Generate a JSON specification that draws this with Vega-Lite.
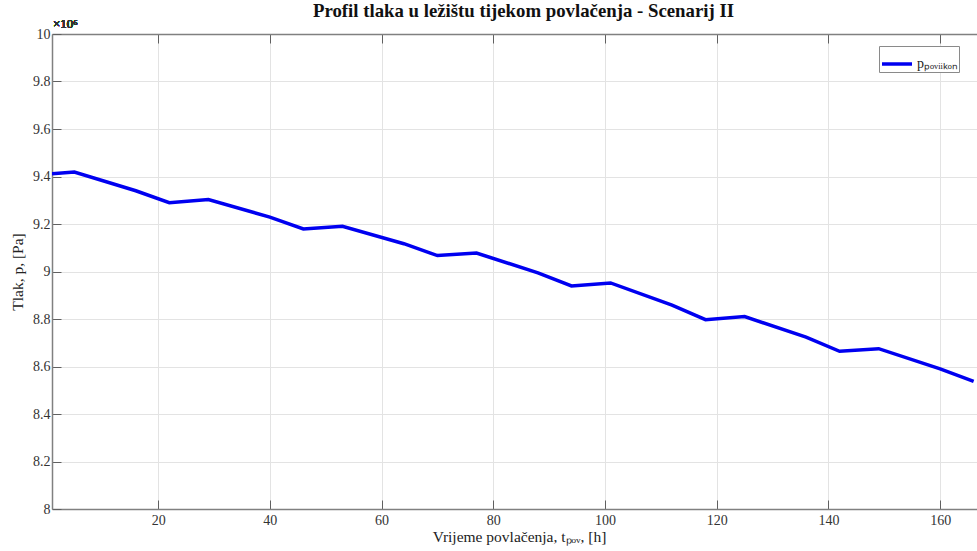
{
  "$schema": "https://vega.github.io/schema/vega-lite/v6.json",
  "autosize": "none",
  "width": 925,
  "height": 475,
  "padding": {"left": 52, "top": 34, "right": 0, "bottom": 42},
  "background": "white",
  "title": {
    "text": "Profil tlaka u ležištu tijekom povlačenja - Scenarij II",
    "font": "Liberation Serif",
    "fontSize": 18.8,
    "fontWeight": "bold",
    "color": "#111",
    "anchor": "middle",
    "dx": 9,
    "offset": -3
  },
  "config": {
    "view": {"stroke": null},
    "axis": {
      "labelFont": "Liberation Serif",
      "titleFont": "Liberation Serif",
      "labelFontSize": 14,
      "titleFontSize": 15.5,
      "titleFontWeight": "normal",
      "labelColor": "#333",
      "titleColor": "#222",
      "domainColor": "#808080",
      "domainWidth": 1.5,
      "tickColor": "#606060",
      "tickWidth": 1,
      "tickSize": -9,
      "gridColor": "#e3e3e3",
      "gridWidth": 1
    }
  },
  "data": {
    "values": [
      {"t": 1, "p": 9412000, "s": "p"},
      {"t": 5, "p": 9419000, "s": "p"},
      {"t": 16, "p": 9340000, "s": "p"},
      {"t": 22, "p": 9290000, "s": "p"},
      {"t": 29, "p": 9303000, "s": "p"},
      {"t": 40, "p": 9229000, "s": "p"},
      {"t": 46, "p": 9179000, "s": "p"},
      {"t": 53, "p": 9190000, "s": "p"},
      {"t": 64, "p": 9117000, "s": "p"},
      {"t": 70, "p": 9067000, "s": "p"},
      {"t": 77, "p": 9078000, "s": "p"},
      {"t": 88, "p": 8994000, "s": "p"},
      {"t": 94, "p": 8939000, "s": "p"},
      {"t": 101, "p": 8952000, "s": "p"},
      {"t": 112, "p": 8858000, "s": "p"},
      {"t": 118, "p": 8797000, "s": "p"},
      {"t": 125, "p": 8810000, "s": "p"},
      {"t": 136, "p": 8724000, "s": "p"},
      {"t": 142, "p": 8664000, "s": "p"},
      {"t": 149, "p": 8675000, "s": "p"},
      {"t": 160, "p": 8590000, "s": "p"},
      {"t": 166, "p": 8537000, "s": "p"}
    ]
  },
  "resolve": {"axis": {"x": "independent", "y": "independent"}},
  "layer": [
    {
      "mark": {"type": "line", "strokeWidth": 3.5, "clip": true},
      "encoding": {
        "x": {
          "field": "t", "type": "quantitative",
          "scale": {"domain": [1, 166.6], "nice": false, "zero": false},
          "axis": {
            "values": [20, 40, 60, 80, 100, 120, 140, 160],
            "title": "Vrijeme povlačenja, tₚₒᵥ, [h]",
            "labelPadding": 13,
            "titlePadding": 2,
            "titleX": 467
          }
        },
        "y": {
          "field": "p", "type": "quantitative",
          "scale": {"domain": [8000000, 10000000], "nice": false, "zero": false},
          "axis": {
            "values": [8000000, 8200000, 8400000, 8600000, 8800000, 9000000, 9200000, 9400000, 9600000, 9800000, 10000000],
            "labelExpr": "format(datum.value/1000000, '.1~f')",
            "title": "Tlak, p, [Pa]",
            "labelPadding": 11,
            "titlePadding": 7
          }
        },
        "color": {
          "field": "s", "type": "nominal",
          "scale": {"domain": ["p"], "range": ["#0000f0"]},
          "legend": {
            "title": null,
            "orient": "none",
            "legendX": 827,
            "legendY": 12,
            "symbolType": "stroke",
            "symbolSize": 900,
            "symbolStrokeWidth": 3.5,
            "labelFont": "Liberation Serif",
            "labelFontSize": 14,
            "labelColor": "#222",
            "labelOffset": 3,
            "labelExpr": "'pₚₒᵥᵢᵢₖₒₙ'",
            "strokeColor": "#8a8a8a",
            "fillColor": "white",
            "padding": 1
          }
        }
      }
    },
    {
      "mark": {"type": "text", "align": "left", "baseline": "bottom", "dy": -3, "dx": 1, "font": "Liberation Serif", "fontSize": 13, "color": "#333"},
      "encoding": {
        "x": {
          "datum": 1, "type": "quantitative",
          "axis": {"orient": "top", "labels": false, "title": null, "grid": false, "values": [20, 40, 60, 80, 100, 120, 140, 160]}
        },
        "y": {
          "datum": 10000000, "type": "quantitative",
          "axis": null
        },
        "text": {"value": "×10⁶"}
      }
    }
  ]
}
